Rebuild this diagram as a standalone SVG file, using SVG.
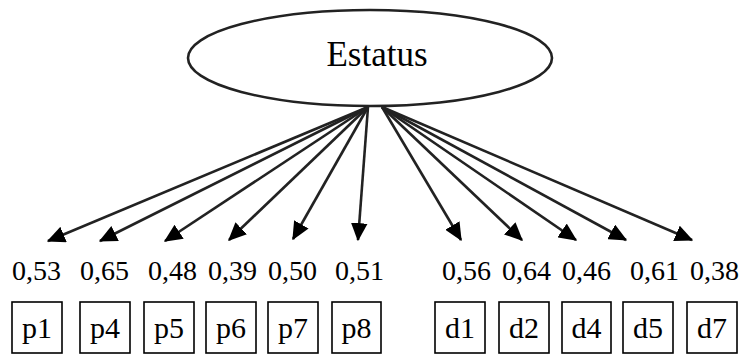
<svg xmlns="http://www.w3.org/2000/svg" width="743" height="355" viewBox="0 0 743 355">
<style>
.t{font-family:"Liberation Serif","Times New Roman",serif;fill:#000}
.v{font-size:28px}
.b{font-size:30px;text-anchor:middle}
.box{fill:#fff;stroke:#000;stroke-width:1.6}
.ar{stroke:#222;stroke-width:2.6;fill:none;marker-end:url(#ah)}
</style>
<defs>
<marker id="ah" markerWidth="7" markerHeight="6.4" refX="6.5" refY="3.2" orient="auto" markerUnits="strokeWidth" viewBox="0 0 7 6.4">
<path d="M0,0 L7,3.2 L0,6.4 Z" fill="#000"/>
</marker>
</defs>
<rect width="743" height="355" fill="#fff"/>
<g id="estatus">
<ellipse cx="370" cy="58" rx="182" ry="48" fill="#fff" stroke="#222" stroke-width="2.6"/>
<text class="t" x="377" y="66" font-size="35" text-anchor="middle">Estatus</text>
</g>
<g id="connectors">
<line class="ar" x1="368" y1="107" x2="48" y2="241"/>
<line class="ar" x1="368" y1="107" x2="100" y2="241"/>
<line class="ar" x1="368" y1="107" x2="165" y2="241"/>
<line class="ar" x1="368" y1="107" x2="229" y2="240"/>
<line class="ar" x1="368" y1="107" x2="293" y2="239"/>
<line class="ar" x1="368" y1="107" x2="358" y2="240"/>
<line class="ar" x1="382" y1="107" x2="461" y2="240"/>
<line class="ar" x1="382" y1="107" x2="522" y2="240"/>
<line class="ar" x1="382" y1="107" x2="576" y2="240"/>
<line class="ar" x1="382" y1="107" x2="626" y2="240"/>
<line class="ar" x1="382" y1="107" x2="692" y2="240"/>
</g>
<g id="values">
<text class="t v" x="12" y="280">0,53</text>
<text class="t v" x="80" y="280">0,65</text>
<text class="t v" x="148" y="280">0,48</text>
<text class="t v" x="208" y="280">0,39</text>
<text class="t v" x="268" y="280">0,50</text>
<text class="t v" x="335" y="280">0,51</text>
<text class="t v" x="442" y="280">0,56</text>
<text class="t v" x="502" y="280">0,64</text>
<text class="t v" x="562" y="280">0,46</text>
<text class="t v" x="630" y="280">0,61</text>
<text class="t v" x="690" y="280">0,38</text>
</g>
<g id="p1"><rect class="box" x="12" y="302" width="50" height="51"/><text class="t b" x="37" y="338">p1</text></g>
<g id="p4"><rect class="box" x="80" y="302" width="50" height="51"/><text class="t b" x="105" y="338">p4</text></g>
<g id="p5"><rect class="box" x="144" y="302" width="50" height="51"/><text class="t b" x="169" y="338">p5</text></g>
<g id="p6"><rect class="box" x="206" y="302" width="50" height="51"/><text class="t b" x="231" y="338">p6</text></g>
<g id="p7"><rect class="box" x="268" y="302" width="50" height="51"/><text class="t b" x="293" y="338">p7</text></g>
<g id="p8"><rect class="box" x="332" y="302" width="49" height="51"/><text class="t b" x="356.5" y="338">p8</text></g>
<g id="d1"><rect class="box" x="435" y="302" width="50" height="51"/><text class="t b" x="460" y="338">d1</text></g>
<g id="d2"><rect class="box" x="499" y="302" width="50" height="51"/><text class="t b" x="524" y="338">d2</text></g>
<g id="d4"><rect class="box" x="562" y="302" width="49" height="51"/><text class="t b" x="586.5" y="338">d4</text></g>
<g id="d5"><rect class="box" x="623" y="302" width="50" height="51"/><text class="t b" x="648" y="338">d5</text></g>
<g id="d7"><rect class="box" x="687" y="302" width="50" height="51"/><text class="t b" x="712" y="338">d7</text></g>
</svg>
